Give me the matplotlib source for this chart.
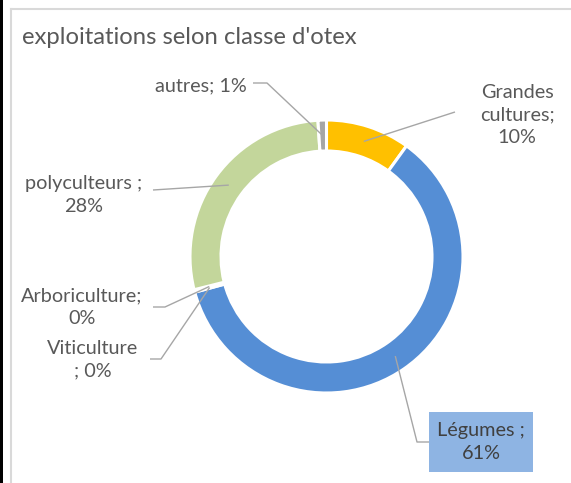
import matplotlib
matplotlib.use("Agg")
import matplotlib.pyplot as plt
import numpy as np
from matplotlib.patches import Rectangle

# ---- data ----
title = "exploitations selon classe d'otex"
categories = ["Grandes cultures", "Légumes", "Viticulture", "Arboriculture", "polyculteurs", "autres"]
values = [10, 61, 0.15, 0.15, 28, 1]
label_names = ["Grandes\ncultures;", "Légumes ;", "Viticulture\n;", "Arboriculture;", "polyculteurs ;", "autres;"]
label_seps = ["\n", "\n", " ", "\n", "\n", " "]
colors = ["#FFC000", "#558ED5", "#558ED5", "#C3D69B", "#C3D69B", "#A6A6A6"]

# ---- layout (image pixel coordinates) ----
W, H = 571, 483
center = (326.5, 256.5)
r_out = 136.5
ring_w = 31
label_pos = [(517, 115), (481, 442), (93, 360), (82, 307), (84, 195), (201, 86)]
leader_pts = [
    [(455, 112)],
    [(429, 442), (417, 442)],
    [(150, 359), (161, 359)],
    [(153, 307), (165, 307)],
    [(153, 190)],
    [(253, 83), (267, 83)],
]
text_col = "#595959"
line_col = "#A6A6A6"
font = "Lato"
plt.rcParams['font.family'] = [font, 'DejaVu Sans']

fig = plt.figure(figsize=(W / 100, H / 100), dpi=100)
ax = fig.add_axes([0, 0, 1, 1])
wedges, _ = ax.pie(values, colors=colors, startangle=-90, counterclock=True,
                   radius=r_out, center=center,
                   wedgeprops=dict(width=ring_w, edgecolor="white", linewidth=2.2))
ax.set_xlim(0, W)
ax.set_ylim(H, 0)
ax.set_aspect("equal")
ax.axis("off")

total = sum(values)
for i, w in enumerate(wedges):
    mid = np.deg2rad((w.theta1 + w.theta2) / 2)
    rm = r_out - ring_w / 2
    anchor = (center[0] + rm * np.cos(mid), center[1] + rm * np.sin(mid))
    pts = leader_pts[i] + [anchor]
    xs = [p[0] for p in pts]
    ys = [p[1] for p in pts]
    ax.plot(xs, ys, color=line_col, lw=1.0, solid_capstyle="butt")
    pct = round(values[i] / total * 100)
    txt = f"{label_names[i]}{label_seps[i]}{pct}%"
    col = "#404040" if i == 1 else text_col
    ax.text(label_pos[i][0], label_pos[i][1], txt, ha="center", va="center",
            fontsize=14.3, color=col, linespacing=1.38, zorder=5)

# Légumes box
ax.add_patch(Rectangle((429, 412), 104, 60, facecolor="#8EB4E3", edgecolor="none", zorder=4))

# frame
ax.plot([10.5, W], [8.5, 8.5], color="#D9D9D9", lw=1.5, zorder=1)
ax.plot([10.5, 10.5], [8.5, H], color="#D9D9D9", lw=1.5, zorder=1)
ax.add_patch(Rectangle((0, 0), 3, H, facecolor="black", edgecolor="none"))

ax.text(22, 44, title, ha="left", va="baseline", fontsize=17.2, color=text_col)

fig.savefig("out.png", dpi=100)
